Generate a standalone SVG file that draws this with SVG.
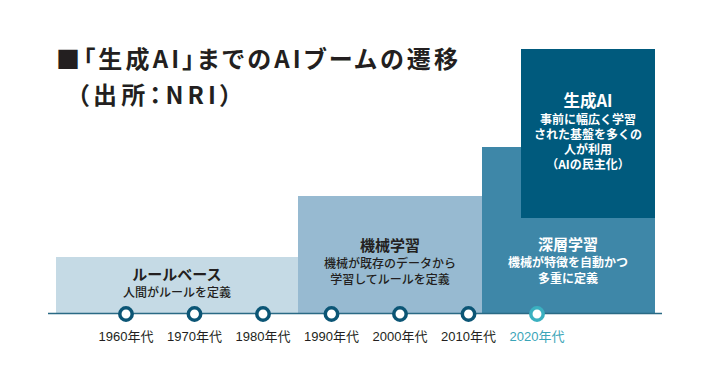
<svg xmlns="http://www.w3.org/2000/svg" width="713" height="381" viewBox="0 0 713 381">
<style>
.t{font-family:"Noto Sans CJK JP","Liberation Sans",sans-serif;}
.title{font-size:24px;font-weight:700;fill:#231f20;font-feature-settings:"palt";}
.h{font-size:15px;font-weight:700;text-anchor:middle;}
.s{font-size:12px;font-weight:500;text-anchor:middle;}
.dk{fill:#231f20;}
.wh{fill:#ffffff;}
.yr{font-family:"Liberation Sans","Noto Sans CJK JP",sans-serif;font-size:13px;text-anchor:middle;fill:#231f20;}
.dot{fill:#ffffff;stroke:#0b5575;stroke-width:3.5;}
</style>
<rect width="713" height="381" fill="#ffffff"/>
<g id="title">
<text class="t title" x="56" y="68" textLength="402" lengthAdjust="spacing">■「生成AI」までのAIブームの遷移</text>
<text class="t title" x="77" y="104" textLength="155" lengthAdjust="spacing">（出所：NRI）</text>
</g>
<g id="rule-based">
<rect x="56" y="257" width="242" height="56" fill="#c5dae5"/>
<text class="t h dk" x="177" y="280">ルールベース</text>
<text class="t s dk" x="177" y="297">人間がルールを定義</text>
</g>
<g id="machine-learning">
<rect x="298" y="196" width="184" height="117" fill="#97bad1"/>
<text class="t h dk" x="390" y="251">機械学習</text>
<text class="t s dk" x="390" y="268">機械が既存のデータから</text>
<text class="t s dk" x="390" y="284">学習してルールを定義</text>
</g>
<g id="deep-learning">
<rect x="482" y="147" width="173" height="166" fill="#3e87a8"/>
<text class="t h wh" x="568" y="250">深層学習</text>
<text class="t s wh" x="568" y="267" style="font-weight:700">機械が特徴を自動かつ</text>
<text class="t s wh" x="568" y="282.5" style="font-weight:700">多重に定義</text>
</g>
<g id="generative-ai">
<rect x="521" y="49" width="134" height="169" fill="#005a7d"/>
<text class="t wh" x="588" y="107" style="font-size:16.5px;font-weight:700;text-anchor:middle">生成AI</text>
<text class="t s wh" x="588" y="124" style="font-weight:700">事前に幅広く学習</text>
<text class="t s wh" x="588" y="139" style="font-weight:700">された基盤を多くの</text>
<text class="t s wh" x="588" y="154" style="font-weight:700">人が利用</text>
<text class="t s wh" x="588" y="169" style="font-weight:700">（AIの民主化）</text>
</g>
<g id="connectors">
<line x1="48" y1="313.5" x2="662" y2="313.5" stroke="#2a6a85" stroke-width="1.5"/>
</g>
<g id="timeline">
<circle class="dot" cx="126" cy="314" r="6.2"/>
<circle class="dot" cx="194.5" cy="314" r="6.2"/>
<circle class="dot" cx="263" cy="314" r="6.2"/>
<circle class="dot" cx="331.5" cy="314" r="6.2"/>
<circle class="dot" cx="400" cy="314" r="6.2"/>
<circle class="dot" cx="468.5" cy="314" r="6.2"/>
<circle class="dot" cx="537" cy="314" r="6.2" style="stroke:#3ab0c0"/>
<text class="yr" x="126" y="341">1960年代</text>
<text class="yr" x="194.5" y="341">1970年代</text>
<text class="yr" x="263" y="341">1980年代</text>
<text class="yr" x="331.5" y="341">1990年代</text>
<text class="yr" x="400" y="341">2000年代</text>
<text class="yr" x="468.5" y="341">2010年代</text>
<text class="yr" x="537" y="341" style="fill:#3aa5b8">2020年代</text>
</g>
</svg>
